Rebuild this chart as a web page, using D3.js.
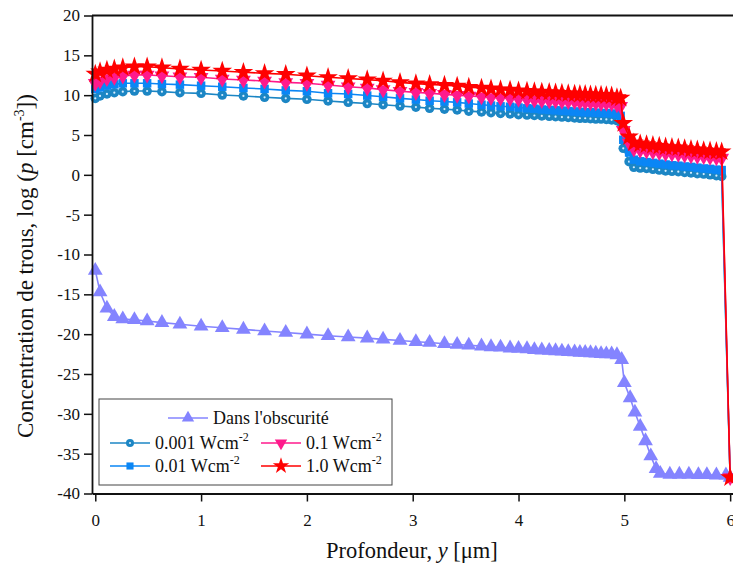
<!DOCTYPE html>
<html><head><meta charset="utf-8">
<script src="https://cdn.jsdelivr.net/npm/d3@7"></script>
<style>body{margin:0;background:#fff}svg{display:block}</style>
</head><body><svg id="c" width="733" height="570"></svg>
<script>
const xTicks = [0,1,2,3,4,5,6];
const yTicks = [20,15,10,5,0,-5,-10,-15,-20,-25,-30,-35,-40];

const xLight = [0,0.045,0.11,0.18,0.26,0.37,0.49,0.63,0.80,1.0,1.2,1.4,1.6,1.8,2.0,2.2,2.39,2.57,2.72,2.88,3.03,3.16,3.30,3.42,3.53,3.65,3.74,3.83,3.92,4.0,4.08,4.15,4.22,4.29,4.35,4.41,4.47,4.53,4.58,4.63,4.68,4.73,4.78,4.83,4.88,4.93,4.965,4.99,5.045,5.09,5.15,5.21,5.27,5.33,5.39,5.45,5.51,5.57,5.63,5.69,5.75,5.81,5.87,5.92,6.0];
const xDark = [0,0.045,0.11,0.18,0.26,0.37,0.49,0.63,0.80,1.0,1.2,1.4,1.6,1.8,2.0,2.2,2.39,2.57,2.72,2.88,3.03,3.16,3.30,3.42,3.53,3.65,3.74,3.83,3.92,4.0,4.08,4.15,4.22,4.29,4.35,4.41,4.47,4.53,4.58,4.63,4.68,4.73,4.78,4.83,4.88,4.93,4.975,5.0,5.055,5.10,5.15,5.20,5.25,5.30,5.34,5.43,5.52,5.61,5.70,5.78,5.87,5.96,6.0];

const yDark = [-12.0,-14.7,-16.75,-17.8,-18.1,-18.2,-18.35,-18.55,-18.76,-19.0,-19.2,-19.4,-19.6,-19.8,-20.0,-20.2,-20.35,-20.5,-20.65,-20.8,-20.95,-21.05,-21.2,-21.3,-21.4,-21.5,-21.6,-21.65,-21.75,-21.8,-21.85,-21.95,-22.0,-22.05,-22.1,-22.15,-22.2,-22.25,-22.3,-22.3,-22.35,-22.4,-22.45,-22.5,-22.5,-22.6,-23.2,-26.1,-28.0,-29.8,-31.6,-33.4,-35.3,-36.9,-37.5,-37.6,-37.6,-37.6,-37.65,-37.65,-37.7,-37.7,-38.0];
const y0001 = [9.6,9.9,10.15,10.31,10.44,10.52,10.52,10.44,10.31,10.23,10.02,9.9,9.73,9.6,9.48,9.27,9.1,8.95,8.8,8.64,8.5,8.35,8.25,8.14,8.0,7.9,7.8,7.7,7.64,7.55,7.5,7.45,7.4,7.35,7.3,7.25,7.2,7.15,7.1,7.1,7.05,7.0,7.0,6.95,6.9,6.8,6.6,3.33,1.65,0.95,0.85,0.8,0.7,0.6,0.5,0.45,0.4,0.3,0.25,0.15,0.1,0.0,-0.1,-0.2,-38];
const y001 = [10.77,10.98,11.19,11.36,11.49,11.49,11.49,11.4,11.32,11.19,11.06,10.9,10.78,10.6,10.49,10.24,10.15,9.95,9.8,9.6,9.45,9.3,9.2,9.1,8.95,8.8,8.7,8.6,8.55,8.45,8.35,8.3,8.2,8.15,8.1,8.05,8.0,7.95,7.9,7.85,7.85,7.8,7.75,7.75,7.7,7.6,7.4,4.4,2.8,1.9,1.7,1.6,1.5,1.4,1.3,1.2,1.15,1.05,1.0,0.9,0.8,0.75,0.65,0.6,-38];
const y01 = [11.5,11.78,12.1,12.24,12.4,12.53,12.53,12.44,12.32,12.24,12.03,11.9,11.78,11.6,11.5,11.28,11.06,10.9,10.7,10.5,10.35,10.25,10.1,10.0,9.9,9.8,9.7,9.65,9.6,9.5,9.45,9.4,9.35,9.3,9.3,9.25,9.2,9.2,9.15,9.1,9.1,9.05,9.0,9.0,8.95,8.8,8.6,5.6,4.0,3.25,3.1,3.0,2.9,2.8,2.7,2.65,2.6,2.5,2.4,2.35,2.3,2.2,2.15,2.1,-38];
const y10 = [12.66,12.95,13.16,13.3,13.45,13.57,13.57,13.45,13.3,13.16,13.03,12.87,12.74,12.62,12.44,12.24,12.1,11.95,11.8,11.6,11.45,11.35,11.25,11.15,11.0,10.9,10.8,10.7,10.65,10.55,10.5,10.45,10.4,10.35,10.3,10.25,10.2,10.15,10.1,10.1,10.05,10.0,10.0,9.95,9.9,9.7,9.64,6.47,4.79,4.03,3.9,3.8,3.7,3.6,3.5,3.45,3.4,3.3,3.2,3.15,3.05,3.0,2.95,2.9,-38];

const series = [
  {name:"Dans l'obscurité", sup:"", xs:xDark, ys:yDark, color:"#8484ff", sym:d3.symbolTriangle, size:95, rot:0},
  {name:"0.001 Wcm", sup:"-2", xs:xLight, ys:y0001, color:"#1c86c4", sym:d3.symbolCircle, size:72, rot:0, dot:true},
  {name:"0.01 Wcm", sup:"-2", xs:xLight, ys:y001, color:"#0a86f5", sym:d3.symbolSquare, size:72, rot:0},
  {name:"0.1 Wcm", sup:"-2", xs:xLight, ys:y01, color:"#ff1a8c", sym:d3.symbolTriangle, size:95, rot:180},
  {name:"1.0 Wcm", sup:"-2", xs:xLight, ys:y10, color:"#ff0000", sym:d3.symbolStar, size:120, rot:0}
];

const FONT = '"Liberation Serif"';
const svg = d3.select("#c");
const L = 92, R = 733, T = 15.5, B = 493.5;
const x = d3.scaleLinear().domain([-0.031, 6.027]).range([L, R]);
const y = d3.scaleLinear().domain([-40, 20]).range([B, T]);

// series
series.forEach(s => {
  const pts = s.xs.map((v,i)=>[v, s.ys[i]]);
  const g = svg.append("g");
  g.append("path").datum(pts)
    .attr("fill","none").attr("stroke", s.color).attr("stroke-width",1.6)
    .attr("d", d3.line().x(d=>x(d[0])).y(d=>y(d[1])));
  g.selectAll("path.m").data(pts).join("path").attr("class","m")
    .attr("d", d3.symbol().type(s.sym).size(s.size))
    .attr("transform", d=>`translate(${x(d[0])},${y(d[1])}) rotate(${s.rot})`)
    .attr("fill", s.color);
  if (s.dot) {
    g.selectAll("circle").data(pts).join("circle")
      .attr("cx", d=>x(d[0])).attr("cy", d=>y(d[1])).attr("r",1.1).attr("fill","#d8eeff");
  }
});

// axes
const ax = svg.append("g").attr("transform",`translate(0,${B})`)
  .call(d3.axisBottom(x).tickValues(xTicks).tickSize(8).tickSizeOuter(0).tickFormat(d3.format("d")));
const ay = svg.append("g").attr("transform",`translate(${L},0)`)
  .call(d3.axisLeft(y).tickValues(yTicks).tickSize(8).tickSizeOuter(0).tickFormat(d3.format("d")));
[ax, ay].forEach(a => {
  a.select(".domain").attr("stroke","#111").attr("stroke-width",1.8);
  a.selectAll(".tick line").attr("stroke","#111").attr("stroke-width",1.5);
  a.selectAll(".tick text").attr("font-size",17).attr("fill","#111");
});
ax.selectAll(".tick text").attr("dy","1.25em");
ay.selectAll(".tick text").attr("x",-12).text(d => d < 0 ? "-" + Math.abs(d) : d);
svg.append("line").attr("x1",L).attr("x2",R).attr("y1",T).attr("y2",T).attr("stroke","#111").attr("stroke-width",1.8);

// axis titles
const xt = svg.append("text").attr("x",412).attr("y",558).attr("text-anchor","middle").attr("font-size",22.5).attr("fill","#111");
xt.append("tspan").text("Profondeur, ");
xt.append("tspan").attr("font-style","italic").text("y");
xt.append("tspan").text(" [μm]");

const yt = svg.append("text").attr("transform","translate(33,266) rotate(-90)").attr("text-anchor","middle").attr("font-size",23).attr("fill","#111");
yt.append("tspan").text("Concentration de trous, log (");
yt.append("tspan").attr("font-style","italic").text("p");
yt.append("tspan").text(" [cm");
yt.append("tspan").attr("font-size",14).attr("dy",-9).text("-3");
yt.append("tspan").attr("dy",9).text("])");

// legend
const lg = svg.append("g");
lg.append("rect").attr("x",99).attr("y",399).attr("width",293).attr("height",86)
  .attr("fill","#fff").attr("stroke","#444").attr("stroke-width",1);
const pos = [
  {lx:168, ty:418},
  {lx:110, ty:443},
  {lx:110, ty:466},
  {lx:261, ty:443},
  {lx:261, ty:466}
];
series.forEach((s,i) => {
  const p = pos[i];
  const g = lg.append("g");
  g.append("line").attr("x1",p.lx).attr("x2",p.lx+40).attr("y1",p.ty).attr("y2",p.ty)
    .attr("stroke",s.color).attr("stroke-width",1.6);
  g.append("path").attr("d", d3.symbol().type(s.sym).size(s.size*0.7))
    .attr("transform",`translate(${p.lx+20},${p.ty}) rotate(${s.rot})`).attr("fill",s.color);
  if (s.dot) g.append("circle").attr("cx",p.lx+20).attr("cy",p.ty).attr("r",1.1).attr("fill","#d8eeff");
  const t = g.append("text").attr("x",p.lx+45).attr("y",p.ty+6).attr("font-size",18).attr("fill","#111");
  t.append("tspan").text(s.name);
  if (s.sup) t.append("tspan").attr("font-size",12).attr("dy",-8).text(s.sup);
});

svg.selectAll("text").style("font-family", FONT);
</script></body></html>
